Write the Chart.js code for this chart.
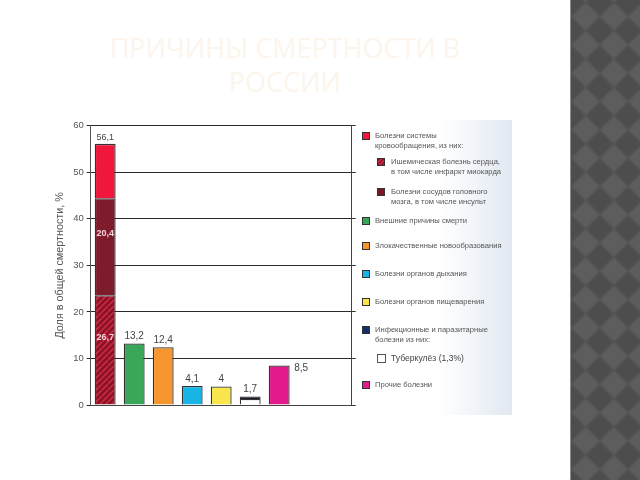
<!DOCTYPE html>
<html><head><meta charset="utf-8">
<script src="https://cdn.jsdelivr.net/npm/chart.js@4/dist/chart.umd.min.js"></script>
<style>
html,body{margin:0;padding:0;background:#fff;width:640px;height:480px;overflow:hidden;font-family:"Liberation Sans",Arial,sans-serif;}
#title{position:absolute;left:75px;width:420px;top:31px;text-align:center;font-family:"Open Sans","Liberation Sans",sans-serif;font-size:27px;line-height:34px;color:#fdf5eb;}
#panel{position:absolute;left:352px;top:120px;width:160px;height:295px;background:linear-gradient(to right,#ffffff 0%,#ffffff 55%,#e1e8f1 100%);}
#checker{position:absolute;left:570px;top:0;width:70px;height:480px;overflow:hidden;background:#575757;border-left:1px solid #8c8c8c;}
#checker div{position:absolute;left:-250px;top:-200px;width:600px;height:900px;transform:rotate(45deg);background:repeating-conic-gradient(#4d4d4d 0 25%,#5d5d5d 0 50%) 0 0/40px 40px;filter:blur(1px);}
canvas{position:absolute;left:0;top:0;}
.lg{position:absolute;font-size:7.6px;line-height:10px;color:#555;white-space:nowrap;}
.sq{position:absolute;width:6px;height:6px;border:1px solid #333;}
</style></head>
<body>
<div id="panel"></div>
<div id="checker"><div></div></div>
<div id="title">ПРИЧИНЫ СМЕРТНОСТИ В РОССИИ</div>
<canvas id="c" width="640" height="480"></canvas>
<div id="legend"></div>
<script>
// ---- data ----
const categories = ['Болезни системы кровообращения','Внешние причины смерти','Злокачественные новообразования','Болезни органов дыхания','Болезни органов пищеварения','Инфекционные и паразитарные болезни','Прочие болезни','',''];
const ischemic      = [23.6, null, null, null, null, null, null, null, null];
const cerebro       = [20.8, null, null, null, null, null, null, null, null];
const otherCirc     = [11.7, null, null, null, null, null, null, null, null];
const mainValues    = [null, 13.2, 12.4, 4.1, 4.0, null, 8.5, null, null];
const tuberculosis  = [null, null, null, null, null, 1.3, null, null, null];
const infectionRest = [null, null, null, null, null, 0.5, null, null, null];
const totals        = [56.1, 13.2, 12.4, 4.1, 4, 1.7, 8.5];
const circLabels    = [26.7, 20.4];
const yTicks        = [0, 10, 20, 30, 40, 50, 60];
const legendItems = [
  {lines:['Болезни системы','кровообращения, из них:'], color:'#f0163c', indent:false},
  {lines:['Ишемическая  болезнь сердца,','в том числе инфаркт миокарда'], color:'stripe', indent:true},
  {lines:['Болезни сосудов головного','мозга, в том числе инсульт'], color:'#7a1828', indent:true},
  {lines:['Внешние причины смерти'], color:'#3aa65a', indent:false},
  {lines:['Злокачественные новообразования'], color:'#f7962f', indent:false},
  {lines:['Болезни органов дыхания'], color:'#18b4e6', indent:false},
  {lines:['Болезни органов пищеварения'], color:'#f8e64c', indent:false},
  {lines:['Инфекционные и паразитарные','болезни из них:'], color:'#14306a', indent:false},
  {lines:['Туберкулёз (1,3%)'], color:'#ffffff', indent:true, big:true},
  {lines:['Прочие болезни'], color:'#e21a8e', indent:false}
];
const legendY = [131, 157, 187, 216, 241, 269, 297, 325, 353, 380];

// ---- patterns ----
function stripePattern(){
  const c=document.createElement('canvas');c.width=6;c.height=6;const g=c.getContext('2d');
  g.fillStyle='#8c1226';g.fillRect(0,0,6,6);
  g.strokeStyle='#c82a42';g.lineWidth=1.6;
  for(let k=-6;k<=12;k+=6){g.beginPath();g.moveTo(k,6);g.lineTo(k+6,0);g.stroke();}
  return g.createPattern(c,'repeat');
}
function crossPattern(){
  const c=document.createElement('canvas');c.width=4;c.height=4;const g=c.getContext('2d');
  g.fillStyle='#7a1a2a';g.fillRect(0,0,4,4);
  g.fillStyle='#8e2636';g.fillRect(0,0,1,1);g.fillRect(2,2,1,1);
  return g.createPattern(c,'repeat');
}
const stripe = stripePattern();
const cross = crossPattern();

// ---- legend ----
const lg=document.getElementById('legend');
legendItems.forEach((it,i)=>{
  const y=legendY[i];
  const sx = it.indent?377:362, tx = it.indent?391:375;
  const sq=document.createElement('div');sq.className='sq';
  sq.style.left=sx+'px';sq.style.top=(y+1)+'px';
  if(it.big){sq.style.width='7px';sq.style.height='7px';sq.style.borderColor='#555';}
  if(it.color==='stripe'){sq.style.background='repeating-linear-gradient(135deg,#8c1226 0 1.5px,#d02a44 1.5px 3px)';}
  else sq.style.background=it.color;
  lg.appendChild(sq);
  const t=document.createElement('div');t.className='lg';
  t.style.left=tx+'px';t.style.top=y+'px';
  if(it.big){t.style.fontSize='8.6px';t.style.color='#444';}
  t.innerHTML=it.lines.join('<br>');
  lg.appendChild(t);
});

// ---- labels plugin ----
const fmt=v=>String(v).replace('.',',');
const labelPlugin={
  id:'vals',
  afterDatasetsDraw(chart){
    const {ctx,scales:{x,y}}=chart;
    ctx.save();
    ctx.font='10px "Liberation Sans", Arial, sans-serif';
    ctx.fillStyle='#444';
    totals.forEach((v,i)=>{
      const px=x.getPixelForValue(i);
      if(i===6){
        ctx.textAlign='left';ctx.textBaseline='middle';
        ctx.fillText(fmt(v),px+15,y.getPixelForValue(v)+3);
      } else {
        ctx.textAlign='center';ctx.textBaseline='bottom';
        ctx.font=(i===0?'9px':'10px')+' "Liberation Sans", Arial, sans-serif';
        ctx.fillText(fmt(v),px,y.getPixelForValue(i===5?1.9:v)-2);
      }
    });
    ctx.font='bold 9px "Liberation Sans", Arial, sans-serif';
    ctx.fillStyle='#f6d4dc';ctx.textAlign='center';ctx.textBaseline='middle';
    const px0=x.getPixelForValue(0);
    const c1=y.getPixelForValue(ischemic[0]/2)-13;
    const c2=y.getPixelForValue(ischemic[0]+cerebro[0]/2)-13;
    ctx.fillText(fmt(circLabels[0]),px0,c1);
    ctx.fillText(fmt(circLabels[1]),px0,c2);
    ctx.restore();
  }
};

const border='#333';
const perBar=['#000','#3aa65a','#f7962f','#18b4e6','#f8e64c','#000','#e21a8e','#000','#000'];
new Chart(document.getElementById('c'),{
  type:'bar',
  data:{labels:categories,datasets:[
    {data:ischemic,backgroundColor:stripe,borderColor:border,borderWidth:1.3},
    {data:cerebro,backgroundColor:cross,borderColor:border,borderWidth:1.3},
    {data:otherCirc,backgroundColor:'#f0163c',borderColor:border,borderWidth:1.3},
    {data:mainValues,backgroundColor:perBar,borderColor:border,borderWidth:1.3},
    {data:tuberculosis,backgroundColor:'#ffffff',borderColor:border,borderWidth:1.3},
    {data:infectionRest,backgroundColor:'#1a1e30',borderColor:border,borderWidth:1.3}
  ]},
  options:{
    responsive:false,animation:false,
    layout:{padding:{left:50,top:125.7,right:285.3,bottom:75}},
    plugins:{legend:{display:false},tooltip:{enabled:false},title:{display:false}},
    datasets:{bar:{categoryPercentage:1,barPercentage:0.72,grouped:false}},
    scales:{
      x:{stacked:true,grid:{display:false},border:{display:true,color:'#444'},ticks:{display:false},afterFit:s=>{s.height=0;}},
      y:{stacked:true,min:0,max:60,
        afterBuildTicks:s=>{s.ticks=yTicks.map(v=>({value:v}));},
        grid:{color:'#2a2a2a',tickLength:4,lineWidth:1},
        border:{display:true,color:'#555'},
        ticks:{color:'#555',font:{size:9.5,family:'"Liberation Sans", Arial, sans-serif'},padding:3},
        title:{display:true,text:'Доля в общей смертности, %',color:'#555',font:{size:10.8,family:'"Liberation Sans", Arial, sans-serif'},padding:{top:4,bottom:0}},
        afterFit:s=>{s.width=40.7;}},
      y2:{position:'right',min:0,max:60,
        afterBuildTicks:s=>{s.ticks=yTicks.map(v=>({value:v}));},
        grid:{drawOnChartArea:false,tickLength:4,color:'#333'},
        border:{display:true,color:'#444'},
        ticks:{display:false},
        afterFit:s=>{s.width=3;}}
    }
  },
  plugins:[labelPlugin]
});
</script>
</body></html>
